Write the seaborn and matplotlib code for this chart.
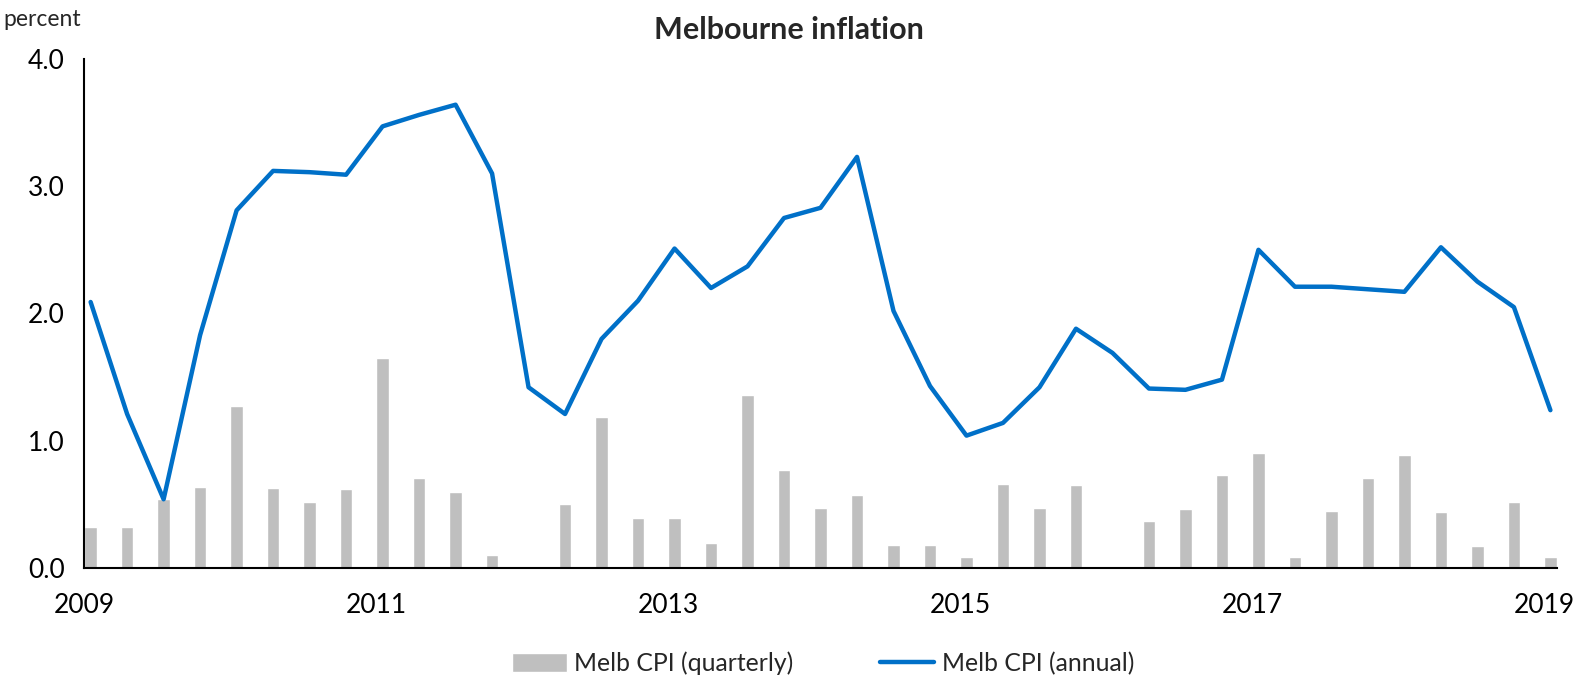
"""
Melbourne inflation — quarterly CPI bars with annual CPI line.
"""
import matplotlib
matplotlib.use("Agg")
import matplotlib.pyplot as plt
import numpy as np
import pandas as pd
import seaborn as sns

# quarterly, 2009 Q1 .. 2019 Q1
quarterly = [
    0.32, 0.32, 0.54, 0.64, 1.27, 0.63, 0.52, 0.62,
    1.65, 0.71, 0.60, 0.10, 0.00, 0.50, 1.19, 0.39,
    0.39, 0.20, 1.36, 0.77, 0.47, 0.57, 0.18, 0.18,
    0.09, 0.66, 0.47, 0.65, -0.01, 0.37, 0.46, 0.73,
    0.90, 0.09, 0.45, 0.71, 0.89, 0.44, 0.17, 0.52,
    0.09,
]
annual = [
    2.09, 1.21, 0.54, 1.83, 2.81, 3.12, 3.11, 3.09,
    3.47, 3.56, 3.64, 3.10, 1.42, 1.21, 1.80, 2.10,
    2.51, 2.20, 2.37, 2.75, 2.83, 3.23, 2.02, 1.43,
    1.04, 1.14, 1.42, 1.88, 1.69, 1.41, 1.40, 1.48,
    2.50, 2.21, 2.21, 2.19, 2.17, 2.52, 2.25, 2.05,
    1.24,
]
year_labels = ["2009", "2011", "2013", "2015", "2017", "2019"]
y_ticks = [0.0, 1.0, 2.0, 3.0, 4.0]

BAR_GREY = "#BFBFBF"
LINE_BLUE = "#0070C8"

df = pd.DataFrame({
    "q": np.arange(len(quarterly)),
    "quarterly": quarterly,
    "annual": annual,
})

sns.set_style("white")
plt.rcParams["font.family"] = ["Lato", "DejaVu Sans"]

fig = plt.figure(figsize=(15.77, 6.77), dpi=100)
ax = fig.add_axes([0.0533, 0.161, 0.934, 0.752])

sns.barplot(data=df, x="q", y="quarterly", native_scale=True, width=0.34,
            color=BAR_GREY, saturation=1, ax=ax, label="Melb CPI (quarterly)")
sns.lineplot(data=df, x="q", y="annual", color=LINE_BLUE, linewidth=3.2,
             ax=ax, label="Melb CPI (annual)")

off = 0.18
ax.set_xlim(-off, len(quarterly) - 1 + off)
ax.set_ylim(0, 4.0)
ax.set_xticks([i * 8 - off for i in range(len(year_labels))])
ax.set_xticklabels(year_labels)
ax.set_yticks(y_ticks)
ax.set_yticklabels([f"{v:.1f}" for v in y_ticks])
ax.set_xlabel("")
ax.set_ylabel("")
ax.tick_params(axis="both", direction="out", length=8, width=1.5,
               labelsize=19, color="black", labelcolor="black")
ax.tick_params(axis="x", pad=10)
ax.tick_params(axis="y", pad=6)

sns.despine(ax=ax)
for side in ("left", "bottom"):
    ax.spines[side].set_linewidth(1.5)
    ax.spines[side].set_color("black")

# title is centred on the figure, not the plot area
fig.text(0.5, 0.955, "Melbourne inflation", fontsize=22, fontweight="bold",
         ha="center", va="center")
fig.text(0.002, 0.962, "percent", fontsize=16.5)

# bars first, then the line, as in the source legend
handles, labels = ax.get_legend_handles_labels()
ax.legend_.remove()
order = [labels.index("Melb CPI (quarterly)"), labels.index("Melb CPI (annual)")]
fig.legend([handles[i] for i in order], [labels[i] for i in order],
           loc="lower center", bbox_to_anchor=(0.522, -0.03),
           ncol=2, frameon=False, fontsize=17.8, columnspacing=3.5,
           handlelength=2.2, handleheight=0.8, handletextpad=0.3)

fig.savefig("out.png", dpi=100)
plt.close(fig)
